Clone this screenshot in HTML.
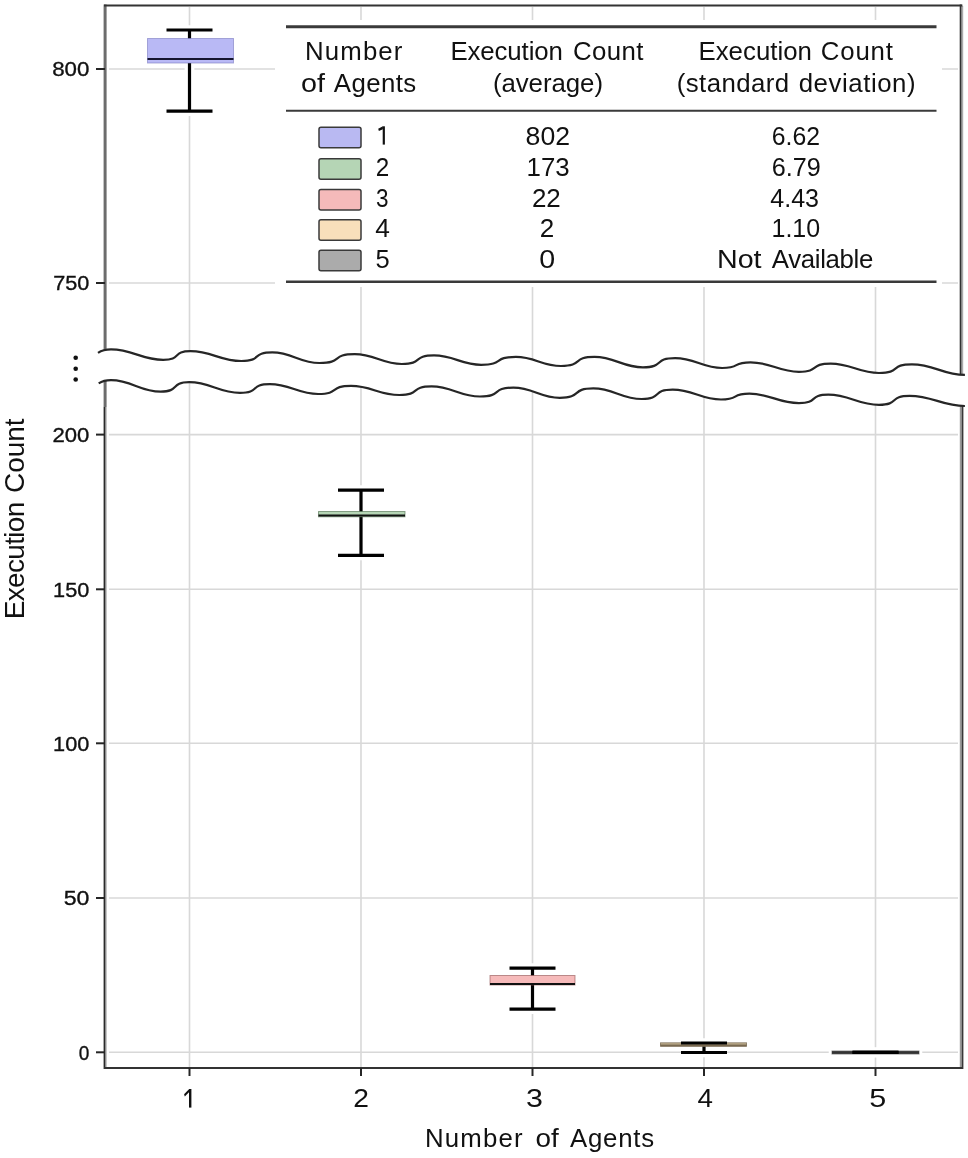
<!DOCTYPE html>
<html><head><meta charset="utf-8"><style>
html,body{margin:0;padding:0;background:#fff;-webkit-font-smoothing:antialiased;}
body{width:968px;height:1158px;overflow:hidden;}
svg{display:block;will-change:transform;filter:blur(0.4px);}
text{font-family:"Liberation Sans", sans-serif;fill:#111;}
</style></head><body>
<svg width="968" height="1158" viewBox="0 0 968 1158">
<g stroke="#d8d8d8" stroke-width="1.6">
<line x1="189.5" y1="7" x2="189.5" y2="372"/>
<line x1="189.5" y1="380" x2="189.5" y2="1067"/>
<line x1="361" y1="7" x2="361" y2="372"/>
<line x1="361" y1="380" x2="361" y2="1067"/>
<line x1="532.5" y1="7" x2="532.5" y2="372"/>
<line x1="532.5" y1="380" x2="532.5" y2="1067"/>
<line x1="704" y1="7" x2="704" y2="372"/>
<line x1="704" y1="380" x2="704" y2="1067"/>
<line x1="875.5" y1="7" x2="875.5" y2="372"/>
<line x1="875.5" y1="380" x2="875.5" y2="1067"/>
<line x1="109" y1="69" x2="958" y2="69"/>
<line x1="109" y1="283" x2="958" y2="283"/>
<line x1="109" y1="434.6" x2="958" y2="434.6"/>
<line x1="109" y1="589.3" x2="958" y2="589.3"/>
<line x1="109" y1="743.3" x2="958" y2="743.3"/>
<line x1="109" y1="898" x2="958" y2="898"/>
<line x1="109" y1="1052.3" x2="958" y2="1052.3"/>
</g>
<rect x="275" y="20" width="667" height="267" fill="#fff"/>
<line x1="105.1" y1="4.5" x2="105.1" y2="360" stroke="#6c6c6c" stroke-width="3"/>
<line x1="105.1" y1="375" x2="105.1" y2="407" stroke="#6c6c6c" stroke-width="3"/>
<line x1="104.6" y1="407" x2="104.6" y2="1069" stroke="#2a2a2a" stroke-width="2"/>
<line x1="106.3" y1="407" x2="106.3" y2="1067" stroke="#bbb" stroke-width="1"/>
<line x1="960.7" y1="4.5" x2="960.7" y2="380" stroke="#333" stroke-width="2"/>
<line x1="962.4" y1="6" x2="962.4" y2="378" stroke="#aaa" stroke-width="1.6"/>
<line x1="962.4" y1="400" x2="962.4" y2="1069" stroke="#383838" stroke-width="2"/>
<line x1="960.6" y1="400" x2="960.6" y2="1067" stroke="#999" stroke-width="1.6"/>
<line x1="104" y1="5.6" x2="962.4" y2="5.6" stroke="#333" stroke-width="2"/>
<line x1="104" y1="1068" x2="962.4" y2="1068" stroke="#333" stroke-width="2.2"/>
<g stroke="#262626" stroke-width="2">
<line x1="96" y1="69" x2="105" y2="69"/>
<line x1="96" y1="283" x2="105" y2="283"/>
<line x1="96" y1="434.6" x2="105" y2="434.6"/>
<line x1="96" y1="589.3" x2="105" y2="589.3"/>
<line x1="96" y1="743.3" x2="105" y2="743.3"/>
<line x1="96" y1="898" x2="105" y2="898"/>
<line x1="96" y1="1052.3" x2="105" y2="1052.3"/>
<line x1="189.5" y1="1068" x2="189.5" y2="1076"/>
<line x1="361" y1="1068" x2="361" y2="1076"/>
<line x1="532.5" y1="1068" x2="532.5" y2="1076"/>
<line x1="704" y1="1068" x2="704" y2="1076"/>
<line x1="875.5" y1="1068" x2="875.5" y2="1076"/>
</g>
<g stroke="#fff" stroke-width="9.7" fill="none">
<line x1="189.5" y1="30" x2="189.5" y2="111.2"/>
<line x1="166.5" y1="30" x2="212.5" y2="30"/>
<line x1="166.5" y1="111.2" x2="212.5" y2="111.2"/>
<rect x="147.5" y="38.5" width="86.0" height="24.5" stroke-width="6.5"/>
</g>
<line x1="189.5" y1="30" x2="189.5" y2="38.5" stroke="#000" stroke-width="3.2"/>
<line x1="189.5" y1="63" x2="189.5" y2="111.2" stroke="#000" stroke-width="3.2"/>
<rect x="147.5" y="38.5" width="86.0" height="24.5" fill="rgb(0,0,220)" fill-opacity="0.275" stroke="#7a7ac0" stroke-width="1" stroke-opacity="0.6"/>
<line x1="147.5" y1="59" x2="233.5" y2="59" stroke="#151530" stroke-width="2"/>
<line x1="166.5" y1="30" x2="212.5" y2="30" stroke="#000" stroke-width="3.2"/>
<line x1="166.5" y1="111.2" x2="212.5" y2="111.2" stroke="#000" stroke-width="3.2"/>
<g stroke="#fff" stroke-width="9.7" fill="none">
<line x1="361" y1="490.1" x2="361" y2="555.3"/>
<line x1="338.0" y1="490.1" x2="384.0" y2="490.1"/>
<line x1="338.0" y1="555.3" x2="384.0" y2="555.3"/>
<rect x="318.5" y="511.5" width="86.5" height="5.2999999999999545" stroke-width="6.5"/>
</g>
<line x1="361" y1="490.1" x2="361" y2="511.5" stroke="#000" stroke-width="3.2"/>
<line x1="361" y1="516.8" x2="361" y2="555.3" stroke="#000" stroke-width="3.2"/>
<rect x="318.5" y="511.5" width="86.5" height="5.2999999999999545" fill="rgb(0,110,0)" fill-opacity="0.29" stroke="#4a6a4a" stroke-width="1" stroke-opacity="0.6"/>
<line x1="318.5" y1="515.5" x2="405" y2="515.5" stroke="#111" stroke-width="2"/>
<line x1="338.0" y1="490.1" x2="384.0" y2="490.1" stroke="#000" stroke-width="3.2"/>
<line x1="338.0" y1="555.3" x2="384.0" y2="555.3" stroke="#000" stroke-width="3.2"/>
<g stroke="#fff" stroke-width="9.7" fill="none">
<line x1="532.5" y1="968.2" x2="532.5" y2="1009.1"/>
<line x1="509.5" y1="968.2" x2="555.5" y2="968.2"/>
<line x1="509.5" y1="1009.1" x2="555.5" y2="1009.1"/>
<rect x="490" y="975.5" width="85" height="9.5" stroke-width="6.5"/>
</g>
<line x1="532.5" y1="968.2" x2="532.5" y2="975.5" stroke="#000" stroke-width="3.2"/>
<line x1="532.5" y1="985" x2="532.5" y2="1009.1" stroke="#000" stroke-width="3.2"/>
<rect x="490" y="975.5" width="85" height="9.5" fill="rgb(220,0,0)" fill-opacity="0.27" stroke="#905050" stroke-width="1" stroke-opacity="0.6"/>
<line x1="490" y1="984" x2="575" y2="984" stroke="#111" stroke-width="2"/>
<line x1="509.5" y1="968.2" x2="555.5" y2="968.2" stroke="#000" stroke-width="3.2"/>
<line x1="509.5" y1="1009.1" x2="555.5" y2="1009.1" stroke="#000" stroke-width="3.2"/>
<g stroke="#fff" stroke-width="9.7" fill="none">
<line x1="704" y1="1043" x2="704" y2="1052.5"/>
<line x1="681.0" y1="1043" x2="727.0" y2="1043"/>
<line x1="681.0" y1="1052.5" x2="727.0" y2="1052.5"/>
<rect x="660.5" y="1042.8" width="86.0" height="3.400000000000091" stroke-width="6.5"/>
</g>
<line x1="704" y1="1043" x2="704" y2="1042.8" stroke="#000" stroke-width="3.2"/>
<line x1="704" y1="1046.2" x2="704" y2="1052.5" stroke="#000" stroke-width="3.2"/>
<rect x="660.5" y="1042.8" width="86.0" height="3.400000000000091" fill="#c4b494" fill-opacity="1" stroke="#5a4a30" stroke-width="1" stroke-opacity="0.6"/>
<line x1="660.5" y1="1045.5" x2="746.5" y2="1045.5" stroke="#7a6a50" stroke-width="2"/>
<line x1="681.0" y1="1043" x2="727.0" y2="1043" stroke="#000" stroke-width="3.2"/>
<line x1="681.0" y1="1052.5" x2="727.0" y2="1052.5" stroke="#000" stroke-width="3.2"/>
<g stroke="#fff" stroke-width="9.7" fill="none">
<line x1="875.5" y1="1052.3" x2="875.5" y2="1052.3"/>
<line x1="852.5" y1="1052.3" x2="898.5" y2="1052.3"/>
<line x1="852.5" y1="1052.3" x2="898.5" y2="1052.3"/>
<rect x="832" y="1051" width="87" height="3" stroke-width="6.5"/>
</g>
<line x1="875.5" y1="1052.3" x2="875.5" y2="1051" stroke="#000" stroke-width="3.2"/>
<line x1="875.5" y1="1054" x2="875.5" y2="1052.3" stroke="#000" stroke-width="3.2"/>
<rect x="832" y="1051" width="87" height="3" fill="#555" fill-opacity="1" stroke="#444" stroke-width="1" stroke-opacity="0.6"/>
<line x1="832" y1="1052.5" x2="919" y2="1052.5" stroke="#333" stroke-width="2"/>
<line x1="852.5" y1="1052.3" x2="898.5" y2="1052.3" stroke="#000" stroke-width="3.2"/>
<line x1="852.5" y1="1052.3" x2="898.5" y2="1052.3" stroke="#000" stroke-width="3.2"/>
<path d="M98.0,352.9 C101.9,350.3 106.5,349.4 111.0,349.4 C132.9,349.4 141.3,359.8 163.2,359.8 C181.8,359.8 171.9,351.2 190.5,351.2 C211.8,351.2 220.0,361.0 241.3,361.0 C262.4,361.0 251.2,352.4 272.3,352.4 C292.1,352.4 299.6,363.0 319.4,363.0 C343.4,363.0 330.7,354.1 354.7,354.1 C374.5,354.1 382.0,364.0 401.8,364.0 C423.7,364.0 412.1,355.4 434.0,355.4 C453.8,355.4 461.4,364.8 481.2,364.8 C504.8,364.8 492.3,356.9 515.9,356.9 C534.8,356.9 542.1,366.0 561.0,366.0 C583.8,366.0 571.7,356.9 594.5,356.9 C614.8,356.9 622.6,367.3 642.9,367.3 C664.8,367.3 653.2,358.1 675.1,358.1 C694.9,358.1 702.4,368.0 722.2,368.0 C741.4,368.0 731.3,362.3 750.5,362.3 C770.8,362.3 778.6,371.8 798.9,371.8 C820.5,371.8 809.1,363.6 830.7,363.6 C851.0,363.6 858.7,373.0 879.0,373.0 C901.4,373.0 889.5,364.3 911.9,364.3 C934.2,364.3 942.6,374.9 964.9,374.9 L964.9,406 L964.9,406.0 C941.7,406.0 932.8,395.8 909.6,395.8 C888.8,395.8 899.8,404.8 879.0,404.8 C857.7,404.8 849.6,394.6 828.3,394.6 C808.3,394.6 818.9,403.1 798.9,403.1 C778.1,403.1 770.2,393.7 749.4,393.7 C730.1,393.7 740.3,399.5 721.0,399.5 C700.7,399.5 693.0,389.6 672.7,389.6 C651.6,389.6 662.8,399.0 641.7,399.0 C621.4,399.0 613.6,388.4 593.3,388.4 C570.5,388.4 582.6,397.8 559.8,397.8 C540.3,397.8 532.9,387.6 513.4,387.6 C490.7,387.6 502.7,396.5 480.0,396.5 C459.7,396.5 451.9,386.4 431.6,386.4 C409.6,386.4 421.3,395.0 399.3,395.0 C379.0,395.0 371.3,385.9 351.0,385.9 C328.7,385.9 340.5,394.0 318.2,394.0 C297.9,394.0 290.1,384.1 269.8,384.1 C249.5,384.1 260.3,392.8 240.0,392.8 C218.7,392.8 210.5,382.2 189.2,382.2 C169.8,382.2 180.1,391.6 160.7,391.6 C139.8,391.6 131.9,380.2 111.0,380.2 C106.7,380.2 102.4,381.0 98.7,383.4 Z" fill="#fff"/>
<path d="M98.0,352.9 C101.9,350.3 106.5,349.4 111.0,349.4 C132.9,349.4 141.3,359.8 163.2,359.8 C181.8,359.8 171.9,351.2 190.5,351.2 C211.8,351.2 220.0,361.0 241.3,361.0 C262.4,361.0 251.2,352.4 272.3,352.4 C292.1,352.4 299.6,363.0 319.4,363.0 C343.4,363.0 330.7,354.1 354.7,354.1 C374.5,354.1 382.0,364.0 401.8,364.0 C423.7,364.0 412.1,355.4 434.0,355.4 C453.8,355.4 461.4,364.8 481.2,364.8 C504.8,364.8 492.3,356.9 515.9,356.9 C534.8,356.9 542.1,366.0 561.0,366.0 C583.8,366.0 571.7,356.9 594.5,356.9 C614.8,356.9 622.6,367.3 642.9,367.3 C664.8,367.3 653.2,358.1 675.1,358.1 C694.9,358.1 702.4,368.0 722.2,368.0 C741.4,368.0 731.3,362.3 750.5,362.3 C770.8,362.3 778.6,371.8 798.9,371.8 C820.5,371.8 809.1,363.6 830.7,363.6 C851.0,363.6 858.7,373.0 879.0,373.0 C901.4,373.0 889.5,364.3 911.9,364.3 C934.2,364.3 942.6,374.9 964.9,374.9" fill="none" stroke="#262626" stroke-width="2.2"/>
<path d="M98.7,383.4 C102.4,381.0 106.7,380.2 111.0,380.2 C131.9,380.2 139.8,391.6 160.7,391.6 C180.1,391.6 169.8,382.2 189.2,382.2 C210.5,382.2 218.7,392.8 240.0,392.8 C260.3,392.8 249.5,384.1 269.8,384.1 C290.1,384.1 297.9,394.0 318.2,394.0 C340.5,394.0 328.7,385.9 351.0,385.9 C371.3,385.9 379.0,395.0 399.3,395.0 C421.3,395.0 409.6,386.4 431.6,386.4 C451.9,386.4 459.7,396.5 480.0,396.5 C502.7,396.5 490.7,387.6 513.4,387.6 C532.9,387.6 540.3,397.8 559.8,397.8 C582.6,397.8 570.5,388.4 593.3,388.4 C613.6,388.4 621.4,399.0 641.7,399.0 C662.8,399.0 651.6,389.6 672.7,389.6 C693.0,389.6 700.7,399.5 721.0,399.5 C740.3,399.5 730.1,393.7 749.4,393.7 C770.2,393.7 778.1,403.1 798.9,403.1 C818.9,403.1 808.3,394.6 828.3,394.6 C849.6,394.6 857.7,404.8 879.0,404.8 C899.8,404.8 888.8,395.8 909.6,395.8 C932.8,395.8 941.7,406.0 964.9,406.0" fill="none" stroke="#262626" stroke-width="2.2"/>
<circle cx="75.7" cy="357.7" r="2.3" fill="#111"/>
<circle cx="75.7" cy="368.8" r="2.3" fill="#111"/>
<circle cx="75.7" cy="379.5" r="2.3" fill="#111"/>
<g stroke="#3a3a3a">
<line x1="286" y1="26.7" x2="936.5" y2="26.7" stroke-width="3"/>
<line x1="286" y1="110.8" x2="936.5" y2="110.8" stroke-width="2"/>
<line x1="286" y1="281.7" x2="936.5" y2="281.7" stroke-width="2.5"/>
</g>
<rect x="319" y="127.3" width="42" height="20.5" rx="2" fill="#b9b9f2" stroke="#3a3a3a" stroke-width="1.5"/>
<rect x="319" y="158.79999999999998" width="42" height="20.5" rx="2" fill="#b5d5b5" stroke="#3a3a3a" stroke-width="1.5"/>
<rect x="319" y="189.6" width="42" height="20.5" rx="2" fill="#f5baba" stroke="#3a3a3a" stroke-width="1.5"/>
<rect x="319" y="219.79999999999998" width="42" height="20.5" rx="2" fill="#f8dfbb" stroke="#3a3a3a" stroke-width="1.5"/>
<rect x="319" y="250.3" width="42" height="20.5" rx="2" fill="#ababab" stroke="#3a3a3a" stroke-width="1.5"/>
<path d="M189.0,1089 L191.39999999999998,1089 L191.39999999999998,1107.6 L189.0,1107.6 Z" fill="#111"/>
<path d="M189.2,1089 L189.2,1092.0 L184.8,1096.6 L184.1,1094.2 Z" fill="#111"/>
<path d="M382.7,126.3 L384.90000000000003,126.3 L384.90000000000003,144.6 L382.7,144.6 Z" fill="#111"/>
<path d="M382.9,126.3 L382.9,129.3 L378.90000000000003,131.10000000000002 L378.20000000000005,128.70000000000002 Z" fill="#111"/>
<text x="305.08" y="60.2" font-size="25.8" textLength="97.34" lengthAdjust="spacing">Number</text>
<text x="301.02" y="91.8" font-size="25.8" textLength="23.95" lengthAdjust="spacingAndGlyphs">of</text>
<text x="333.85" y="91.8" font-size="25.8" textLength="82.38" lengthAdjust="spacing">Agents</text>
<text x="450.38" y="60.2" font-size="25.8" textLength="112.49" lengthAdjust="spacing">Execution</text>
<text x="572.89" y="60.2" font-size="25.8" textLength="70.50" lengthAdjust="spacing">Count</text>
<text x="492.90" y="91.8" font-size="25.8" textLength="110.10" lengthAdjust="spacing">(average)</text>
<text x="698.38" y="60.2" font-size="25.8" textLength="113.59" lengthAdjust="spacing">Execution</text>
<text x="820.79" y="60.2" font-size="25.8" textLength="72.10" lengthAdjust="spacing">Count</text>
<text x="676.80" y="91.8" font-size="25.8" textLength="112.26" lengthAdjust="spacing">(standard</text>
<text x="798.67" y="91.8" font-size="25.8" textLength="116.93" lengthAdjust="spacing">deviation)</text>
<text x="525.58" y="144.6" font-size="25.8" textLength="44.42" lengthAdjust="spacingAndGlyphs">802</text>
<text x="375.80" y="176.1" font-size="25.8" textLength="13.50" lengthAdjust="spacingAndGlyphs">2</text>
<text x="526.53" y="176.1" font-size="25.8" textLength="43.10" lengthAdjust="spacingAndGlyphs">173</text>
<text x="376.02" y="206.9" font-size="25.8" textLength="12.52" lengthAdjust="spacingAndGlyphs">3</text>
<text x="531.90" y="206.9" font-size="25.8" textLength="28.90" lengthAdjust="spacingAndGlyphs">22</text>
<text x="375.21" y="237.1" font-size="25.8" textLength="14.65" lengthAdjust="spacingAndGlyphs">4</text>
<text x="539.80" y="237.1" font-size="25.8" textLength="14.50" lengthAdjust="spacingAndGlyphs">2</text>
<text x="375.47" y="267.6" font-size="25.8" textLength="14.22" lengthAdjust="spacingAndGlyphs">5</text>
<text x="539.19" y="267.6" font-size="25.8" textLength="15.92" lengthAdjust="spacingAndGlyphs">0</text>
<text x="771.79" y="144.6" font-size="25.8" textLength="48.21" lengthAdjust="spacingAndGlyphs">6.62</text>
<text x="771.79" y="176.1" font-size="25.8" textLength="49.03" lengthAdjust="spacingAndGlyphs">6.79</text>
<text x="770.31" y="206.9" font-size="25.8" textLength="48.73" lengthAdjust="spacingAndGlyphs">4.43</text>
<text x="771.53" y="237.1" font-size="25.8" textLength="48.67" lengthAdjust="spacingAndGlyphs">1.10</text>
<text x="716.98" y="267.6" font-size="25.8" textLength="44.61" lengthAdjust="spacingAndGlyphs">Not</text>
<text x="771.85" y="267.6" font-size="25.8" textLength="101.50" lengthAdjust="spacing">Available</text>
<text x="353.30" y="1107.4" font-size="25.8" textLength="15.70" lengthAdjust="spacingAndGlyphs">2</text>
<text x="525.92" y="1107.4" font-size="25.8" textLength="16.92" lengthAdjust="spacingAndGlyphs">3</text>
<text x="697.61" y="1107.4" font-size="25.8" textLength="15.45" lengthAdjust="spacingAndGlyphs">4</text>
<text x="869.17" y="1107.4" font-size="25.8" textLength="17.02" lengthAdjust="spacingAndGlyphs">5</text>
<text x="424.88" y="1147" font-size="25.8" textLength="97.74" lengthAdjust="spacing">Number</text>
<text x="535.42" y="1147" font-size="25.8" textLength="23.25" lengthAdjust="spacingAndGlyphs">of</text>
<text x="569.95" y="1147" font-size="25.8" textLength="84.28" lengthAdjust="spacing">Agents</text>
<text stroke="#111" stroke-width="0.35" x="52.21" y="76.3" font-size="20.5" textLength="37.19" lengthAdjust="spacingAndGlyphs">800</text>
<text stroke="#111" stroke-width="0.35" x="53.25" y="290.3" font-size="20.5" textLength="36.15" lengthAdjust="spacingAndGlyphs">750</text>
<text stroke="#111" stroke-width="0.35" x="52.47" y="441.90000000000003" font-size="20.5" textLength="36.93" lengthAdjust="spacingAndGlyphs">200</text>
<text stroke="#111" stroke-width="0.35" x="53.14" y="596.5999999999999" font-size="20.5" textLength="36.26" lengthAdjust="spacingAndGlyphs">150</text>
<text stroke="#111" stroke-width="0.35" x="53.14" y="750.5999999999999" font-size="20.5" textLength="36.26" lengthAdjust="spacingAndGlyphs">100</text>
<text stroke="#111" stroke-width="0.35" x="63.68" y="905.3" font-size="20.5" textLength="25.72" lengthAdjust="spacingAndGlyphs">50</text>
<text stroke="#111" stroke-width="0.35" x="78.80" y="1059.6" font-size="20.5" textLength="10.60" lengthAdjust="spacingAndGlyphs">0</text>
<text transform="rotate(-90)" x="-619.20" y="24.4" font-size="28" textLength="117.42" lengthAdjust="spacing">Execution</text>
<text transform="rotate(-90)" x="-493.02" y="24.4" font-size="28" textLength="74.43" lengthAdjust="spacing">Count</text>
</svg>
</body></html>
